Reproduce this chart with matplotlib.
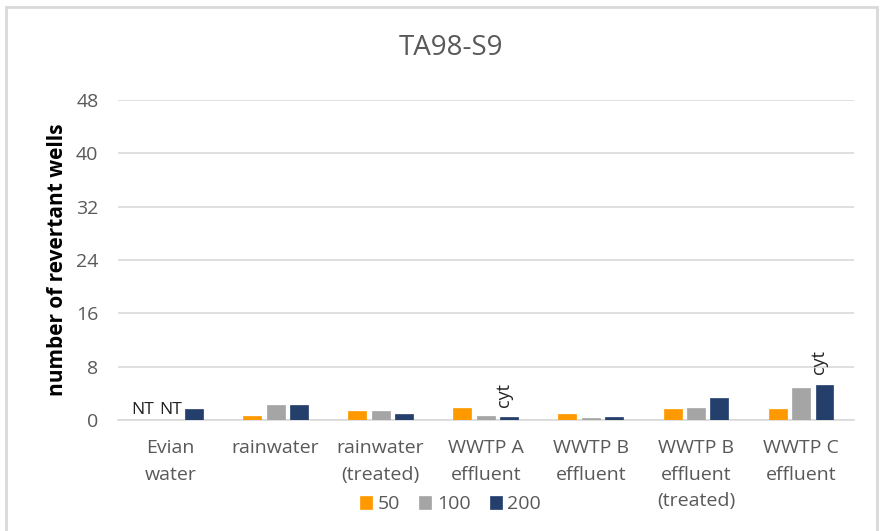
import numpy as np
import matplotlib.pyplot as plt
from matplotlib.patches import Rectangle

categories = ["Evian\nwater", "rainwater", "rainwater\n(treated)", "WWTP A\neffluent",
              "WWTP B\neffluent", "WWTP B\neffluent\n(treated)", "WWTP C\neffluent"]
doses = ["50", "100", "200"]
vals_50 = [np.nan, 0.55, 1.3, 1.85, 0.95, 1.7, 1.7]
vals_100 = [np.nan, 2.2, 1.3, 0.55, 0.35, 1.85, 4.85]
vals_200 = [1.65, 2.2, 0.95, 0.4, 0.4, 3.25, 5.25]
nt_marks = [(0, 0), (0, 1)]          # (category, dose index) not tested
cyt_marks = [(3, 2), (6, 2)]         # cytotoxic
yticks = [0, 8, 16, 24, 32, 40, 48]

colors = ["#ff9900", "#a5a5a5", "#243f6b"]
grey = "#595959"
plt.rcParams['font.family'] = ['Open Sans', 'DejaVu Sans']

fig = plt.figure(figsize=(8.8, 5.31), dpi=100)
ax = fig.add_axes([0.134, 0.209, 0.836, 0.603])

# outer chart border
fig.patches.append(Rectangle((6 / 880, -0.1), 871 / 880, 1.1 - 7 / 531,
                             transform=fig.transFigure, fill=False,
                             edgecolor="#d9d9d9", linewidth=2))

x = np.arange(len(categories))
w = 0.171
step = 0.223
series = [vals_50, vals_100, vals_200]
for i, (vals, c, lab) in enumerate(zip(series, colors, doses)):
    ax.bar(x + (i - 1) * step, vals, width=w, color=c, label=lab,
           edgecolor=c, linewidth=0.5, zorder=3)

for k, (ci, di) in enumerate(nt_marks):
    shift = -0.045 if k == 0 else 0.0
    ax.text(ci + (di - 1) * step + shift, 0.25, "NT", ha="center", va="bottom",
            fontsize=12.5, color="#222222")
for ci, di in cyt_marks:
    ax.text(ci + (di - 1) * step - 0.05, series[di][ci] + 1.6, "cyt",
            rotation=90, ha="center", va="bottom", fontsize=13, color="#222222")

ax.set_xlim(-0.5, len(categories) - 0.5)
ax.set_ylim(0, 48)
ax.set_yticks(yticks)
ax.set_xticks(x)
ax.set_xticklabels(categories, fontsize=14, color=grey, linespacing=1.6, va="top")
ax.tick_params(axis="y", labelsize=14, labelcolor=grey, length=0, pad=14)
ax.tick_params(axis="x", length=0, pad=14)
ax.grid(axis="y", color="#d9d9d9", linewidth=1.2, zorder=0)
for s in ["top", "right", "left"]:
    ax.spines[s].set_visible(False)
ax.spines["bottom"].set_color("#d9d9d9")
ax.spines["bottom"].set_linewidth(1.2)

ax.set_ylabel("number of revertant wells", fontsize=15, fontweight="bold", labelpad=6)
fig.text(0.512, 0.91, "TA98-S9", ha="center", va="center", fontsize=20, color=grey)

fig.legend(loc="center", bbox_to_anchor=(0.512, 0.05), ncol=3, frameon=False,
           fontsize=14, handlelength=0.6, handleheight=0.6, handletextpad=0.3,
           columnspacing=1.0, labelcolor=grey)

fig.savefig("out.png", dpi=100)
